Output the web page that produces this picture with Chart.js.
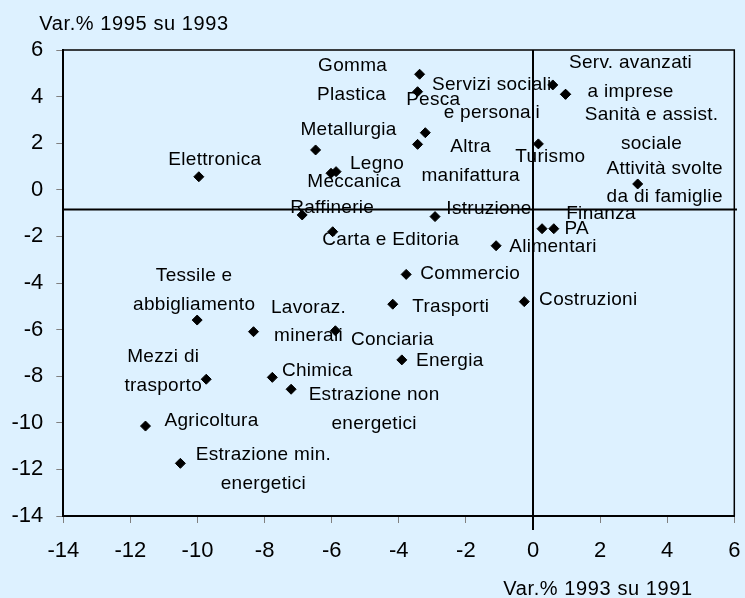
<!DOCTYPE html>
<html>
<head>
<meta charset="utf-8">
<script src="https://cdn.jsdelivr.net/npm/chart.js@4/dist/chart.umd.min.js"></script>
<style>
  html, body { margin: 0; padding: 0; background: rgb(221, 241, 255); }
  #wrap { width: 745px; height: 598px; }
</style>
</head>
<body>
<div id="wrap"><canvas id="chart" width="745" height="598"></canvas></div>
<script>
// sectors (label lines split with \n)
const sectors = [
  'Elettronica', 'Metallurgia', 'Legno', 'Meccanica', 'Raffinerie', 'Carta e Editoria',
  'Gomma', 'Plastica', 'Pesca', 'Altra\nmanifattura', 'Servizi sociali\ne personali',
  'Serv. avanzati\na imprese', 'Sanità e assist.\nsociale', 'Turismo',
  'Attività svolte\nda di famiglie', 'Istruzione', 'Finanza', 'PA', 'Alimentari',
  'Commercio', 'Trasporti', 'Costruzioni', 'Conciaria', 'Energia',
  'Tessile e\nabbigliamento', 'Lavoraz.\nminerali', 'Mezzi di\ntrasporto', 'Chimica',
  'Estrazione non\nenergetici', 'Agricoltura', 'Estrazione min.\nenergetici'
];
// Var.% 1993 su 1991
const var9391 = [
  -9.96, -6.48, -5.87, -6.02, -6.88, -5.97,
  -3.38, -3.44, -3.21, -3.44, 0.59,
  0.97, 0.97, 0.16,
  3.12, -2.92, 0.27, 0.62, -1.10,
  -3.78, -4.18, -0.26, -5.89, -3.91,
  -10.01, -8.33, -9.74, -7.77,
  -7.21, -11.55, -10.51
];
// Var.% 1995 su 1993
const var9593 = [
  0.56, 1.71, 0.78, 0.71, -1.08, -1.80,
  4.96, 4.21, 2.45, 1.95, 4.50,
  4.10, 4.10, 1.97,
  0.25, -1.15, -1.67, -1.67, -2.40,
  -3.63, -4.91, -4.80, -6.05, -7.30,
  -5.59, -6.09, -8.13, -8.05,
  -8.56, -10.14, -11.74
];
const tickValues = [-14, -12, -10, -8, -6, -4, -2, 0, 2, 4, 6];
const meanX = 0;
const meanY = -0.85;

// where each label sits relative to its point (px)
const labelOffsets = [
  [16, -17], [33, -20], [41, -8], [23, 9], [30, -7], [58, 8],
  [-67, -8], [-66, 3], [8, -33], [53, 17], [-61, 14],
  [65, -17], [86, 35], [12, 13],
  [27, -1], [54, -8], [59, -15], [23, 0], [57, 1],
  [64, -1], [58, 3], [64, -2], [57, 9], [48, 1],
  [-3, -30], [55, -10], [-43, -8], [45, -7],
  [83, 20], [66, -5], [83, 6]
];

const FONT = "'Liberation Sans', Arial, sans-serif";

const points = sectors.map((s, i) => ({ x: var9391[i], y: var9593[i] }));

const decorPlugin = {
  id: 'decor',
  afterDraw(chart) {
    const ctx = chart.ctx;
    const a = chart.chartArea;
    const xs = chart.scales.x, ys = chart.scales.y;
    ctx.save();
    // top and right frame
    ctx.strokeStyle = '#000';
    ctx.lineWidth = 1.5;
    ctx.beginPath();
    ctx.moveTo(a.left, a.top);
    ctx.lineTo(a.right, a.top);
    ctx.lineTo(a.right, a.bottom);
    ctx.stroke();

    // point labels
    ctx.fillStyle = '#000';
    ctx.font = '19px ' + FONT;
    ctx.letterSpacing = '0.3px';
    ctx.textAlign = 'center';
    ctx.textBaseline = 'middle';
    sectors.forEach((s, i) => {
      const px = xs.getPixelForValue(var9391[i]);
      const py = ys.getPixelForValue(var9593[i]);
      const lines = s.split('\n');
      const cx = px + labelOffsets[i][0];
      const cy = py + labelOffsets[i][1];
      const lh = 28.5;
      lines.forEach((ln, k) => {
        ctx.fillText(ln, cx, cy + (k - (lines.length - 1) / 2) * lh);
      });
    });

    // axis titles
    ctx.font = '20px ' + FONT;
    ctx.letterSpacing = '0.6px';
    ctx.textAlign = 'left';
    ctx.fillText('Var.% 1995 su 1993', a.left - 24, a.top - 26);
    ctx.fillText('Var.% 1993 su 1991', a.right - 231, a.bottom + 73);
    ctx.restore();
  }
};

const axisCommon = {
  type: 'linear',
  min: -14,
  max: 6,
  grid: { drawOnChartArea: false, drawTicks: true, tickLength: 7, color: '#808080', lineWidth: 1 },
  border: { display: true, color: '#000', width: 2 },
};

new Chart(document.getElementById('chart').getContext('2d'), {
  type: 'scatter',
  data: {
    datasets: [
      {
        data: [{ x: meanX, y: 6 }, { x: meanX, y: -14.6 }],
        showLine: true,
        borderColor: '#000',
        borderWidth: 2,
        pointRadius: 0,
        clip: false
      },
      {
        data: [{ x: -14, y: meanY }, { x: 6.08, y: meanY }],
        showLine: true,
        borderColor: '#000',
        borderWidth: 2,
        pointRadius: 0,
        clip: false
      },
      {
        data: points,
        pointStyle: 'rectRot',
        pointRadius: 5,
        backgroundColor: '#000',
        borderColor: '#000',
        borderWidth: 1
      }
    ]
  },
  options: {
    responsive: false,
    animation: false,
    devicePixelRatio: 1,
    layout: { padding: { left: 0, top: 50, right: 10.7, bottom: 0 } },
    plugins: { legend: { display: false }, tooltip: { enabled: false } },
    scales: {
      x: Object.assign({}, axisCommon, {
        afterFit(scale) {
          scale.height = 82;
          scale.paddingLeft = 0;
          scale.paddingRight = 0;
        },
        afterBuildTicks(scale) { scale.ticks = tickValues.map(v => ({ value: v })); },
        ticks: { padding: 15, color: '#000', font: { size: 22, family: FONT } }
      }),
      y: Object.assign({}, axisCommon, {
        afterFit(scale) {
          scale.width = 63.3;
          scale.paddingTop = 0;
          scale.paddingBottom = 0;
        },
        afterBuildTicks(scale) { scale.ticks = tickValues.map(v => ({ value: v })); },
        ticks: { padding: 13, color: '#000', font: { size: 22, family: FONT } }
      })
    }
  },
  plugins: [decorPlugin]
});
</script>
</body>
</html>
